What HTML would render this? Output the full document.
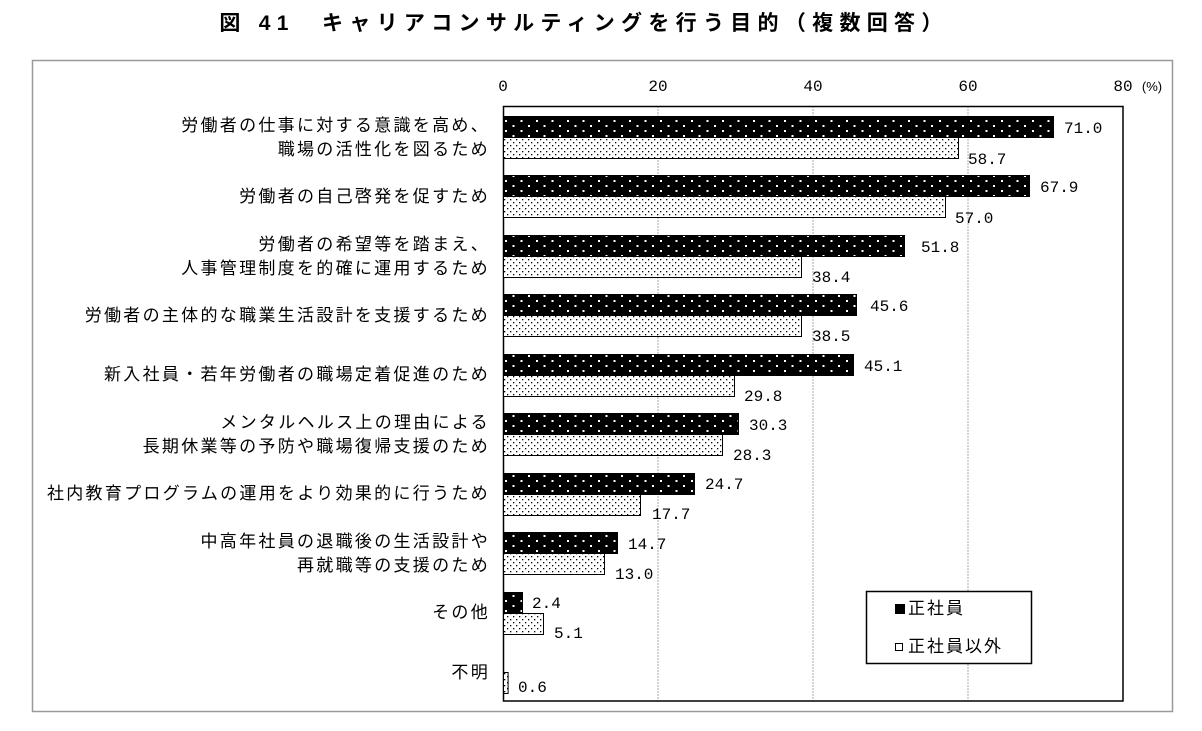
<!DOCTYPE html>
<html><head><meta charset="utf-8"><style>
body{margin:0;background:#fff;}
svg text{font-family:"Liberation Sans","Noto Sans CJK JP",sans-serif;}
svg .m text{font-family:"Liberation Mono","Noto Sans CJK JP",monospace;}
</style></head><body>
<svg width="1202" height="726" xmlns="http://www.w3.org/2000/svg">
<defs>
<pattern id="pb" width="15.5" height="10" patternUnits="userSpaceOnUse" x="503" y="117">
<rect width="15.5" height="10" fill="#000"/>
<rect x="2" y="3" width="2" height="2" fill="#fff"/>
<rect x="9.5" y="8" width="2" height="2" fill="#fff"/>
</pattern>
<pattern id="pw" width="6" height="6" patternUnits="userSpaceOnUse" x="503" y="138">
<rect width="6" height="6" fill="#fff"/>
<rect x="1" y="1" width="1.3" height="1.3" fill="#000"/>
<rect x="4" y="4" width="1.3" height="1.3" fill="#000"/>
</pattern>
</defs>
<text x="584" y="30" font-size="21" font-weight="bold" text-anchor="middle" letter-spacing="6.3">図 41　キャリアコンサルティングを行う目的（複数回答）</text>
<rect x="32.5" y="60.5" width="1140" height="651" fill="none" stroke="#999" stroke-width="1.5"/>
<g stroke="#aaa" stroke-dasharray="2,1">
<line x1="658" y1="106" x2="658" y2="701"/><line x1="813" y1="106" x2="813" y2="701"/><line x1="968" y1="106" x2="968" y2="701"/>
</g>
<rect x="503.5" y="106.5" width="619.5" height="594.5" fill="none" stroke="#000" stroke-width="1.5"/>
<g font-size="16" text-anchor="middle" class="m">
<text x="503" y="91">0</text><text x="658" y="91">20</text><text x="813" y="91">40</text><text x="968" y="91">60</text><text x="1123" y="91">80</text>
</g>
<text x="1152" y="91" font-size="13" text-anchor="middle">(%)</text>
<g font-size="17" text-anchor="end" letter-spacing="2.3">
<text x="490" y="131">労働者の仕事に対する意識を高め、</text>
<text x="490" y="155">職場の活性化を図るため</text>
<text x="490" y="202">労働者の自己啓発を促すため</text>
<text x="490" y="250">労働者の希望等を踏まえ、</text>
<text x="490" y="274">人事管理制度を的確に運用するため</text>
<text x="490" y="321">労働者の主体的な職業生活設計を支援するため</text>
<text x="490" y="380">新入社員・若年労働者の職場定着促進のため</text>
<text x="490" y="428">メンタルヘルス上の理由による</text>
<text x="490" y="452">長期休業等の予防や職場復帰支援のため</text>
<text x="490" y="499">社内教育プログラムの運用をより効果的に行うため</text>
<text x="490" y="547">中高年社員の退職後の生活設計や</text>
<text x="490" y="571">再就職等の支援のため</text>
<text x="490" y="618">その他</text>
<text x="490" y="678">不明</text>
</g>
<g stroke="#000" stroke-width="1">
<rect x="503.5" y="116.5" width="550" height="21" fill="url(#pb)"/><rect x="503.5" y="137.5" width="455" height="21" fill="url(#pw)"/>
<rect x="503.5" y="175.5" width="526" height="21" fill="url(#pb)"/><rect x="503.5" y="196.5" width="442" height="21" fill="url(#pw)"/>
<rect x="503.5" y="235.5" width="401" height="21" fill="url(#pb)"/><rect x="503.5" y="256.5" width="298" height="21" fill="url(#pw)"/>
<rect x="503.5" y="294.5" width="353" height="21" fill="url(#pb)"/><rect x="503.5" y="315.5" width="298" height="21" fill="url(#pw)"/>
<rect x="503.5" y="354.5" width="350" height="21" fill="url(#pb)"/><rect x="503.5" y="375.5" width="231" height="21" fill="url(#pw)"/>
<rect x="503.5" y="413.5" width="235" height="21" fill="url(#pb)"/><rect x="503.5" y="434.5" width="219" height="21" fill="url(#pw)"/>
<rect x="503.5" y="473.5" width="191" height="21" fill="url(#pb)"/><rect x="503.5" y="494.5" width="137" height="21" fill="url(#pw)"/>
<rect x="503.5" y="532.5" width="114" height="21" fill="url(#pb)"/><rect x="503.5" y="553.5" width="101" height="21" fill="url(#pw)"/>
<rect x="503.5" y="592.5" width="19" height="21" fill="url(#pb)"/><rect x="503.5" y="613.5" width="40" height="21" fill="url(#pw)"/>
<rect x="503.5" y="672.5" width="4.6" height="21" fill="url(#pw)"/>
</g>
<g font-size="16" class="m">
<text x="1064" y="133">71.0</text><text x="968" y="164">58.7</text>
<text x="1040" y="192">67.9</text><text x="955" y="223">57.0</text>
<text x="921" y="252">51.8</text><text x="812" y="282">38.4</text>
<text x="870" y="311">45.6</text><text x="812" y="341">38.5</text>
<text x="864" y="371">45.1</text><text x="744" y="401">29.8</text>
<text x="749" y="430">30.3</text><text x="733" y="460">28.3</text>
<text x="705" y="489">24.7</text><text x="652" y="519">17.7</text>
<text x="628" y="549">14.7</text><text x="615" y="579">13.0</text>
<text x="532" y="608">2.4</text><text x="554" y="638">5.1</text>
<text x="518" y="692">0.6</text>
</g>
<rect x="866.5" y="591.5" width="165" height="72" fill="#fff" stroke="#000" stroke-width="1.5"/>
<rect x="895" y="604" width="10" height="10" fill="#000"/>
<text x="908" y="614" font-size="17" letter-spacing="2">正社員</text>
<rect x="895.5" y="643.5" width="7" height="7" fill="#fff" stroke="#000"/>
<text x="908" y="652" font-size="17" letter-spacing="2">正社員以外</text>
</svg>
</body></html>
